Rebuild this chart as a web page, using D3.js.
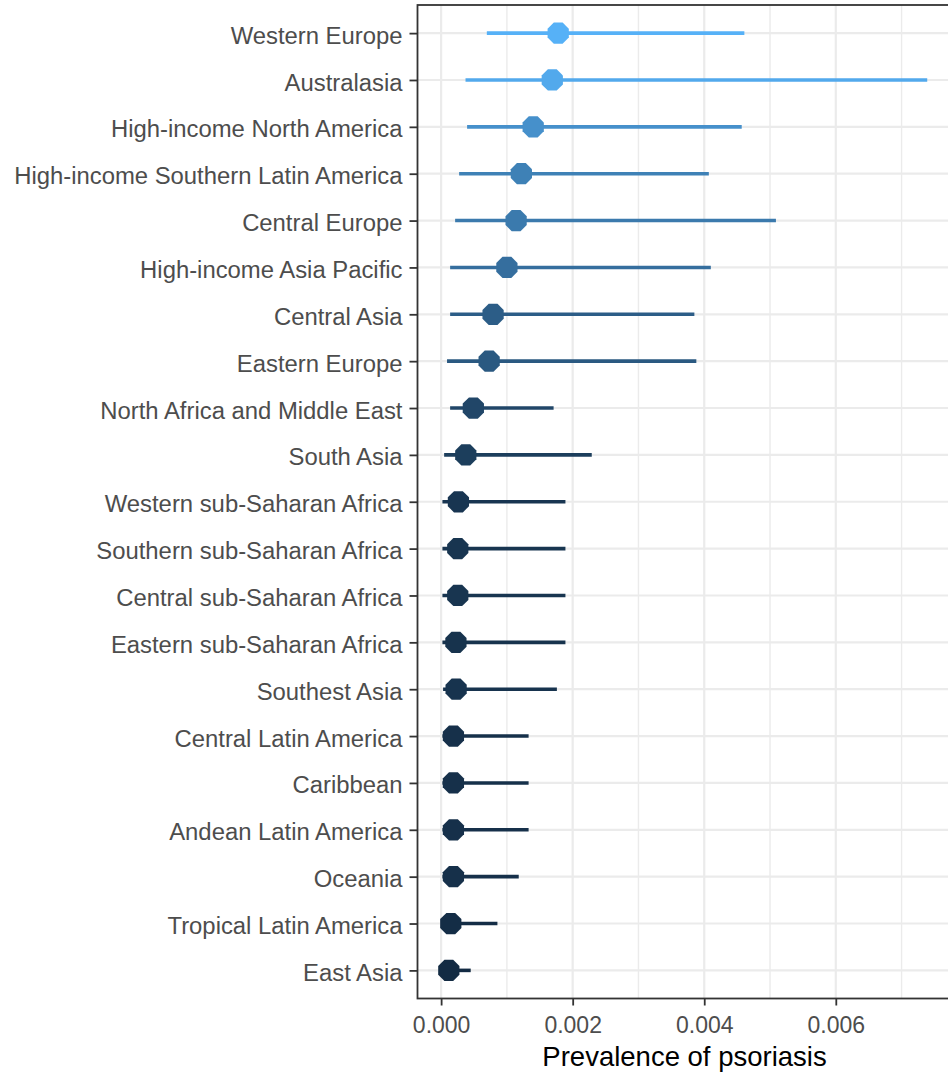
<!DOCTYPE html>
<html>
<head>
<meta charset="utf-8">
<script src="https://cdn.jsdelivr.net/npm/d3@7"></script>
<style>
  html, body { margin: 0; padding: 0; background: #ffffff; }
  svg { display: block; font-family: "Liberation Sans", Arial, sans-serif; }
</style>
</head>
<body>
<svg id="chart" width="948" height="1078"></svg>
<script>
// Regions, ordered top to bottom
const regions = [
  "Western Europe", "Australasia", "High-income North America",
  "High-income Southern Latin America", "Central Europe", "High-income Asia Pacific",
  "Central Asia", "Eastern Europe", "North Africa and Middle East", "South Asia",
  "Western sub-Saharan Africa", "Southern sub-Saharan Africa", "Central sub-Saharan Africa",
  "Eastern sub-Saharan Africa", "Southest Asia", "Central Latin America", "Caribbean",
  "Andean Latin America", "Oceania", "Tropical Latin America", "East Asia"
];
// Point estimate of prevalence
const prevalence = [
  0.00178, 0.00169, 0.00140, 0.00122, 0.00114, 0.00100,
  0.00079, 0.00073, 0.00049, 0.000375,
  0.000263, 0.000253, 0.000253,
  0.000225, 0.000228, 0.000187, 0.000187,
  0.000187, 0.000187, 0.000147, 0.000117
];
// Lower bound of the uncertainty interval
const lower = [
  0.000695, 0.000371, 0.000395, 0.000274, 0.000213, 0.000137,
  0.000137, 0.00009, 0.000137, 0.000046,
  0.00002, 0.00002, 0.00002,
  0.00002, 0.00003, 0.00002, 0.00002,
  0.00002, 0.00002, 0.00001, 0.00001
];
// Upper bound of the uncertainty interval
const upper = [
  0.00461, 0.00739, 0.00457, 0.00407, 0.00509, 0.00410,
  0.00385, 0.00388, 0.00171, 0.00229,
  0.00189, 0.00189, 0.00189,
  0.00189, 0.00176, 0.00133, 0.00133,
  0.00133, 0.00118, 0.000856, 0.00045
];
const xMajor = [0, 0.002, 0.004, 0.006];
const xMinor = [0.001, 0.003, 0.005, 0.007];
const xTitle = "Prevalence of psoriasis";

const rows = regions.map((r, i) => ({ region: r, est: prevalence[i], lo: lower[i], hi: upper[i] }));

const svg = d3.select("#chart");
const panel = { left: 417.5, top: 5, bottom: 998.5 };

// continuous scale with 5% expansion on each side
const dmin = d3.min(lower), dmax = d3.max(upper);
const pad = (dmax - dmin) * 0.05;
const pxPerUnit = 65.78 / 0.001;
const panelRight = panel.left + (dmax - dmin + 2 * pad) * pxPerUnit;
const x = d3.scaleLinear().domain([dmin - pad, dmax + pad]).range([panel.left, panelRight]);

const y = d3.scalePoint().domain(regions).range([panel.top, panel.bottom]).padding(0.6);

const colour = d3.scaleLinear()
  .domain([d3.min(prevalence), d3.max(prevalence)])
  .range(["#132B43", "#56B1F7"])
  .interpolate(d3.interpolateLab);

// panel background
svg.append("rect")
  .attr("x", panel.left).attr("y", panel.top)
  .attr("width", panelRight - panel.left).attr("height", panel.bottom - panel.top)
  .attr("fill", "#ffffff");

// grid lines
const grid = svg.append("g");
grid.selectAll(".minor").data(xMinor).join("line")
  .attr("x1", d => x(d)).attr("x2", d => x(d))
  .attr("y1", panel.top).attr("y2", panel.bottom)
  .attr("stroke", "#EBEBEB").attr("stroke-width", 1.4);
grid.selectAll(".major").data(xMajor).join("line")
  .attr("x1", d => x(d)).attr("x2", d => x(d))
  .attr("y1", panel.top).attr("y2", panel.bottom)
  .attr("stroke", "#EBEBEB").attr("stroke-width", 2.2);
grid.selectAll(".hmajor").data(regions).join("line")
  .attr("x1", panel.left).attr("x2", panelRight)
  .attr("y1", d => y(d)).attr("y2", d => y(d))
  .attr("stroke", "#EBEBEB").attr("stroke-width", 2.2);

// interval segments
svg.append("g").selectAll("line").data(rows).join("line")
  .attr("x1", d => x(d.lo)).attr("x2", d => x(d.hi))
  .attr("y1", d => y(d.region)).attr("y2", d => y(d.region))
  .attr("stroke", d => colour(d.est))
  .attr("stroke-width", 3.6);

// octagonal point marker, flat on top
const octagon = {
  draw(context, size) {
    const r = Math.sqrt(size / (2 * Math.SQRT2));
    for (let k = 0; k < 8; k++) {
      const a = Math.PI / 8 + k * Math.PI / 4;
      const px = r * Math.cos(a), py = r * Math.sin(a);
      if (k === 0) context.moveTo(px, py); else context.lineTo(px, py);
    }
    context.closePath();
  }
};
const R = 11.5;
const symbol = d3.symbol().type(octagon).size(2 * Math.SQRT2 * R * R);
svg.append("g").selectAll("path").data(rows).join("path")
  .attr("transform", d => `translate(${x(d.est)},${y(d.region)})`)
  .attr("d", symbol)
  .attr("fill", d => colour(d.est));

// panel border
svg.append("rect")
  .attr("x", panel.left).attr("y", panel.top)
  .attr("width", panelRight - panel.left).attr("height", panel.bottom - panel.top)
  .attr("fill", "none").attr("stroke", "#333333").attr("stroke-width", 1.8);

// y axis
const yAxis = svg.append("g")
  .attr("transform", `translate(${panel.left},0)`)
  .call(d3.axisLeft(y).tickSize(8).tickPadding(7));
yAxis.select(".domain").remove();
yAxis.selectAll(".tick line").attr("stroke", "#333333").attr("stroke-width", 1.8);
yAxis.selectAll(".tick text")
  .attr("fill", "#4D4D4D").style("font-size", "23.85px").attr("dy", "0.42em");

// x axis
const xAxis = svg.append("g")
  .attr("transform", `translate(0,${panel.bottom})`)
  .call(d3.axisBottom(x).tickValues(xMajor).tickFormat(d3.format(".3f")).tickSize(7).tickPadding(11));
xAxis.select(".domain").remove();
xAxis.selectAll(".tick line").attr("stroke", "#333333").attr("stroke-width", 1.8);
xAxis.selectAll(".tick text")
  .attr("fill", "#4D4D4D").style("font-size", "23px").attr("dy", "0.71em");

// x axis title
svg.append("text")
  .attr("x", (panel.left + panelRight) / 2)
  .attr("y", 1066)
  .attr("text-anchor", "middle")
  .attr("fill", "#000000")
  .style("font-size", "27.5px")
  .text(xTitle);
</script>
</body>
</html>
